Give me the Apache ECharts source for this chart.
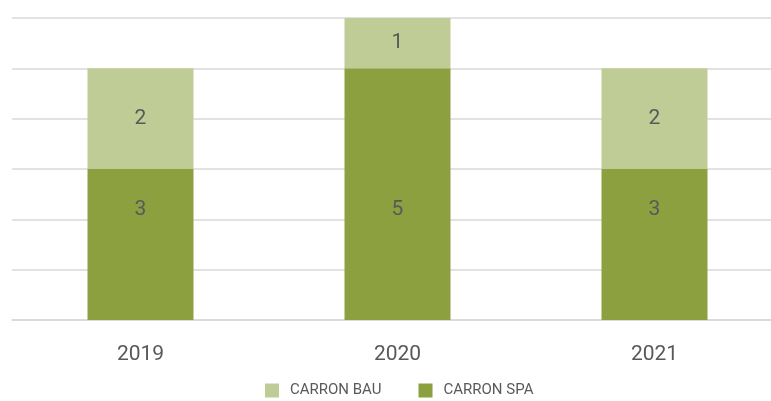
<!DOCTYPE html>
<html><head><meta charset="utf-8">
<script src="https://cdn.jsdelivr.net/npm/echarts@6/dist/echarts.min.js"></script>
<style>html,body{margin:0;padding:0;background:#fff}#c{width:771px;height:401px}</style>
</head><body><div id="c"></div>
<script>
const categories = ['2019', '2020', '2021'];
const carronSpa = [3, 5, 3];
const carronBau = [2, 1, 2];
const seriesNames = ['CARRON BAU', 'CARRON SPA'];

const chart = echarts.init(document.getElementById('c'), null, {renderer: 'canvas'});
const font = 'Roboto, "DejaVu Sans", sans-serif';
chart.setOption({
  animation: false,
  textStyle: {fontFamily: font},
  grid: {left: 12, right: -12, top: 18, bottom: 81, containLabel: false, outerBoundsMode: 'none'},
  legend: {
    data: seriesNames, bottom: 3, left: 265, padding: 0,
    itemWidth: 14, itemHeight: 14, itemGap: 37, icon: 'rect',
    textStyle: {color: '#595959', fontSize: 15, fontFamily: font, padding: [0, 0, 0, 6]}
  },
  xAxis: {
    type: 'category', data: categories,
    axisLine: {lineStyle: {color: '#d9d9d9', width: 1.5}},
    axisTick: {show: false},
    axisLabel: {color: '#595959', fontSize: 21, margin: 24, fontFamily: font}
  },
  yAxis: {
    type: 'value', min: 0, max: 6, interval: 1,
    axisLabel: {show: false}, axisLine: {show: false}, axisTick: {show: false},
    splitLine: {lineStyle: {color: '#d9d9d9', width: 1.5}}
  },
  series: [
    {name: 'CARRON SPA', type: 'bar', stack: 's', data: carronSpa, barWidth: 106,
     itemStyle: {color: '#8da03f'},
     label: {show: true, position: 'insideBottom', distance: 110, verticalAlign: 'middle',
             color: '#595959', fontSize: 21, fontFamily: font}},
    {name: 'CARRON BAU', type: 'bar', stack: 's', data: carronBau, barWidth: 106,
     itemStyle: {color: '#c0cc96'},
     label: {show: true, position: 'inside', color: '#595959', fontSize: 21, fontFamily: font}}
  ]
});
</script></body></html>
